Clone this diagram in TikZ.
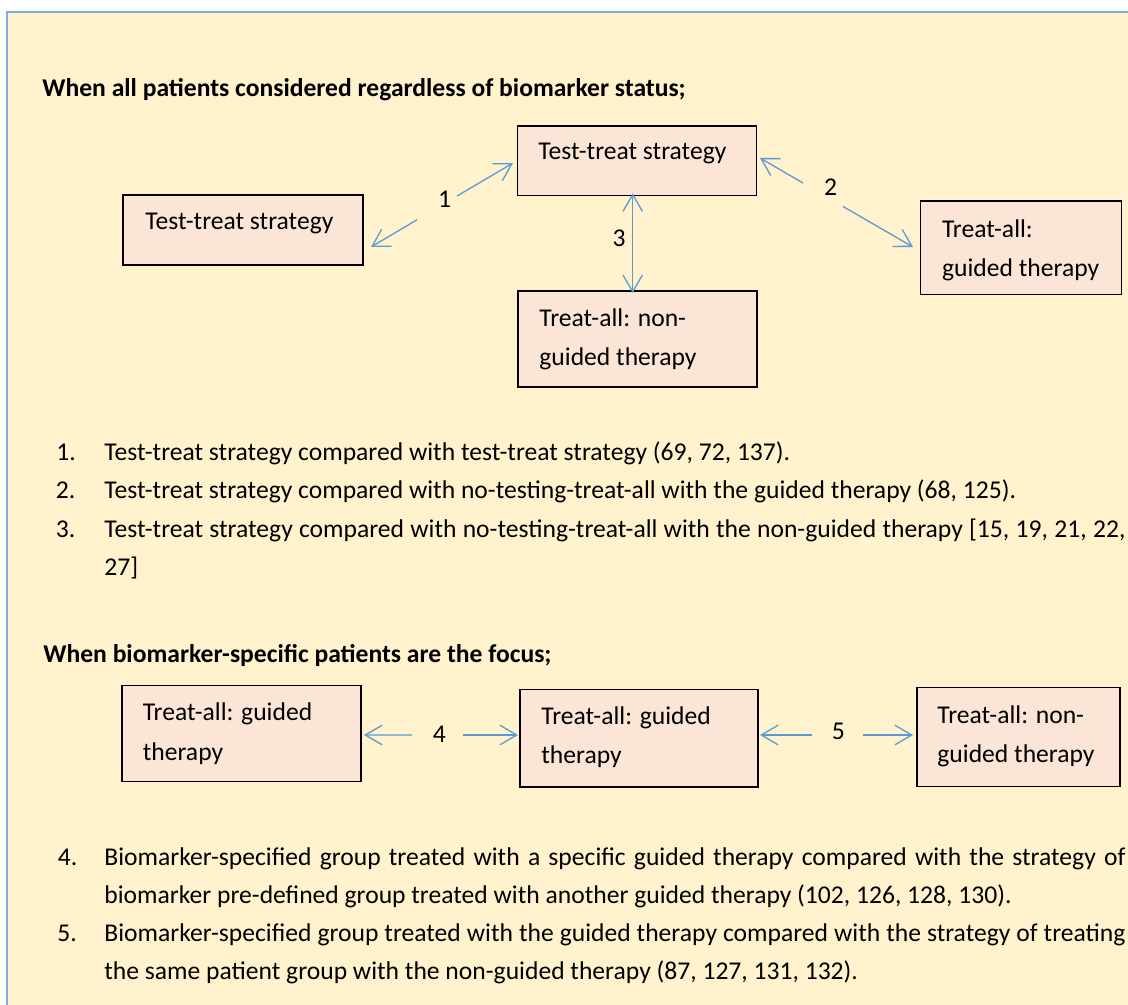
\documentclass[tikz,border=0pt]{standalone}
\usepackage{fontspec}
\setmainfont{Carlito}
\usetikzlibrary{arrows.meta,calc}

\definecolor{panel}{HTML}{FFF2CC}
\definecolor{panelline}{HTML}{7EAEDC}
\definecolor{boxfill}{HTML}{FBE5D6}
\definecolor{linkblue}{HTML}{5B9BD5}

\newcommand\boxfont{\fontsize{12.8}{19.7}\selectfont}
\newcommand\listfont{\fontsize{12.8}{19.15}\selectfont}

\tikzset{
  >={Straight Barb[length=8.4pt,width=9.8pt]},
  stratbox/.style={draw=black, line width=0.75pt, fill=boxfill, inner sep=0pt, outer sep=0pt},
  % multi-line box texts are placed by the baseline of their last line
  boxtext/.style={anchor=base west, inner sep=0pt, font=\boxfont, align=left},
  heading/.style={anchor=base west, inner sep=0pt, font=\boxfont\bfseries},
  numtext/.style={anchor=base west, inner sep=0pt, font=\listfont},
  itemtext/.style={anchor=base west, inner sep=0pt, font=\listfont, text width=510.5pt, align=justify},
  linklabel/.style={anchor=base, inner sep=0pt, font=\boxfont},
  link/.style={draw=linkblue, line width=0.65pt}
}

\begin{document}
\begin{tikzpicture}[x=0.5pt,y=-0.5pt]
  \useasboundingbox (0,0) rectangle (1128,1005);
  \clip (0,0) rectangle (1128,1005);

  % background panel with its blue frame on the top and left
  \fill[panel] (7.3,12) rectangle (1140,1020);
  \draw[panelline, line width=0.9pt] (7.3,1020) -- (7.3,12) -- (1140,12);

  % ---------- first scheme ----------
  \node[heading] (h1) at (42,96.7) {When all patients considered regardless of biomarker status;};

  \node[stratbox, minimum width=120pt,   minimum height=35pt]    (bxA) at (243,230)      {};
  \node[stratbox, minimum width=119.7pt, minimum height=34.65pt] (bxB) at (637,160.7)    {};
  \node[stratbox, minimum width=100.5pt, minimum height=46.65pt] (bxC) at (1021.2,247.7) {};
  \node[stratbox, minimum width=119.5pt, minimum height=48pt]    (bxD) at (637.5,339)    {};

  \node[boxtext] (tA) at (145,230)     {Test-treat strategy};
  \node[boxtext] (tB) at (538,160)     {Test-treat strategy};
  \node[boxtext] (tC) at (941.7,276.7) {Treat-all:\\guided therapy};
  \node[boxtext] (tD) at (539,365.5)   {Treat-all: non-\\guided therapy};

  % connector 1
  \coordinate (p1a) at ($(bxA.east)+(8,17)$);
  \coordinate (p1b) at (417,219.8);
  \coordinate (p1c) at (457,196);
  \coordinate (p1d) at ($(bxB.west)+(-4.3,2.3)$);
  \draw[link,->] (p1b) -- (p1a);
  \draw[link,->] (p1c) -- (p1d);
  \node[linklabel] (l1) at (444.5,207.3) {1};

  % connector 2
  \coordinate (p2a) at ($(bxB.east)+(3.3,-2.7)$);
  \coordinate (p2b) at (803,183);
  \coordinate (p2c) at (843,206.5);
  \coordinate (p2d) at ($(bxC.west)+(-7.7,-0.7)$);
  \draw[link,->] (p2b) -- (p2a);
  \draw[link,->] (p2c) -- (p2d);
  \node[linklabel] (l2) at (830.5,196) {2};

  % connector 3
  \draw[link,<->] ($(bxB.south)+(-4.3,-2)$) -- ($(bxD.north)+(-4.8,2)$);
  \node[linklabel] (l3) at (619,246.7) {3};

  % list of comparisons
  \node[numtext]  (n1) at (56,460.5) {1.};
  \node[itemtext] (i1) at (104,460.5) {Test-treat strategy compared with test-treat strategy (69, 72, 137).};
  \node[numtext]  (n2) at (55.5,498.8) {2.};
  \node[itemtext] (i2) at (104,498.8) {Test-treat strategy compared with no-testing-treat-all with the guided therapy (68, 125).};
  \node[numtext]  (n3) at (55.5,537.1) {3.};
  \node[itemtext] (i3) at (104,537.1) {Test-treat strategy compared with no-testing-treat-all with the non-guided therapy [15, 19, 21, 22,\linebreak 27]};

  % ---------- second scheme ----------
  \node[heading] (h2) at (43,662) {When biomarker-specific patients are the focus;};

  \node[stratbox, minimum width=119.65pt, minimum height=48pt]    (bxE) at (241.4,733.7) {};
  \node[stratbox, minimum width=119pt,    minimum height=48.85pt] (bxF) at (639,738.2)   {};
  \node[stratbox, minimum width=101.65pt, minimum height=49.7pt]  (bxG) at (1018.4,737)  {};

  \node[boxtext] (tE) at (142.4,760.2) {Treat-all: guided\\therapy};
  \node[boxtext] (tF) at (541,763.4)   {Treat-all: guided\\therapy};
  \node[boxtext] (tG) at (937,762.6)   {Treat-all: non-\\guided therapy};

  % connector 4
  \coordinate (p4a) at ($(bxE.east)+(3,1.3)$);
  \coordinate (p4b) at (412,735);
  \coordinate (p4c) at (463,735);
  \coordinate (p4d) at ($(bxF.west)+(-2,-3.2)$);
  \draw[link,->] (p4b) -- (p4a);
  \draw[link,->] (p4c) -- (p4d);
  \node[linklabel] (l4) at (439.3,742.5) {4};

  % connector 5
  \coordinate (p5a) at ($(bxF.east)+(2,-3.2)$);
  \coordinate (p5b) at (811.5,735);
  \coordinate (p5c) at (863,735);
  \coordinate (p5d) at ($(bxG.west)+(-3.7,-2)$);
  \draw[link,->] (p5b) -- (p5a);
  \draw[link,->] (p5c) -- (p5d);
  \node[linklabel] (l5) at (838.3,739.3) {5};

  \node[numtext]  (n4) at (57.5,865) {4.};
  \node[itemtext] (i4) at (104,865) {Biomarker-specified group treated with a specific guided therapy compared with the strategy of\linebreak biomarker pre-defined group treated with another guided therapy (102, 126, 128, 130).};
  \node[numtext]  (n5) at (57,941.6) {5.};
  \node[itemtext] (i5) at (104,941.6) {Biomarker-specified group treated with the guided therapy compared with the strategy of treating\linebreak the same patient group with the non-guided therapy (87, 127, 131, 132).};
\end{tikzpicture}
\end{document}
